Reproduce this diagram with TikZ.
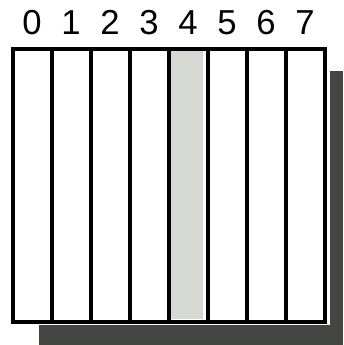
\documentclass[tikz,border=0pt]{standalone}
\usepackage{fontspec}
\setmainfont{Liberation Sans}
\usepackage{tikz}
\usetikzlibrary{positioning}
\definecolor{shadowgray}{RGB}{68,70,68}
\definecolor{cellshade}{RGB}{214,216,212}

\begin{document}
\begin{tikzpicture}[x=0.75pt,y=-0.75pt,node distance=9pt]
\tikzset{cellbox/.style={draw=black,line width=3pt,fill=white,minimum width=29.25pt,minimum height=204.75pt,inner sep=0pt},
  digit/.style={font=\fontsize{26}{26}\selectfont,inner sep=0pt}}
\useasboundingbox (0,0) rectangle (343,345);
% drop shadow and white rim
\fill[shadowgray] (39,71) rectangle (343,345);
\fill[white] (9,45) rectangle (330,325);
\foreach \i in {0,...,7} {
  \node[cellbox] (c\i) at ({32+39*\i},185.5) {};
  \node[digit,above=of c\i] (d\i) {\i};
}
\node[fill=cellshade,minimum width=24.4pt,minimum height=201pt,inner sep=0pt] (shade) at (187.2,185) {};
\end{tikzpicture}
\end{document}
